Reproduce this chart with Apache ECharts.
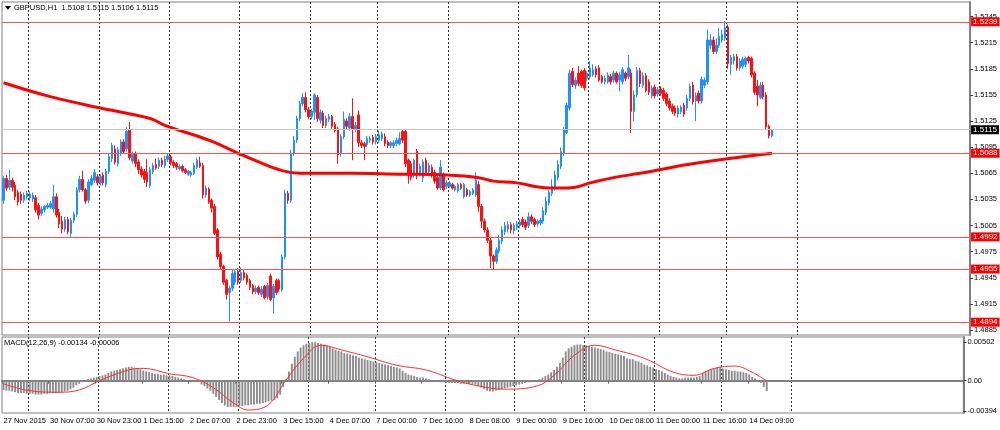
<!DOCTYPE html>
<html><head><meta charset="utf-8">
<script src="https://cdn.jsdelivr.net/npm/echarts@6/dist/echarts.min.js"></script>
<style>html,body{margin:0;padding:0;background:#fff}#c{width:1000px;height:430px}</style>
</head><body><div id="c"></div>
<script>
// ---- data ----
const sessions=[['27 Nov',15,23],['30 Nov',0,23],['1 Dec',0,23],['2 Dec',0,23],['3 Dec',0,23],['4 Dec',0,22],['7 Dec',0,23],['8 Dec',0,23],['9 Dec',0,23],['10 Dec',0,23],['11 Dec',0,22],['14 Dec',0,23],['15 Dec',0,23],['16 Dec',0,23],['17 Dec',0,23]];
const xTickLabels=['27 Nov 2015','30 Nov 07:00','30 Nov 23:00','1 Dec 15:00','2 Dec 07:00','2 Dec 23:00','3 Dec 15:00','4 Dec 07:00','7 Dec 00:00','7 Dec 16:00','8 Dec 08:00','9 Dec 00:00','9 Dec 16:00','10 Dec 08:00','11 Dec 00:00','11 Dec 16:00','14 Dec 09:00'];
const gridDays=['30 Nov','1 Dec','2 Dec','3 Dec','4 Dec','7 Dec','8 Dec','9 Dec','10 Dec','11 Dec','14 Dec','15 Dec'];
const priceTicks=[1.4885,1.4915,1.4945,1.4975,1.5005,1.5035,1.5065,1.5095,1.5125,1.5155,1.5185,1.5215,1.5245];
const macdTicks=[-0.00394,0,0.00502];
const levels=[1.5239,1.5088,1.4992,1.4955,1.4894];
const lastPrice=1.5115;
const opens=[1.5034,1.5059,1.5049,1.5057,1.5051,1.5043,1.5041,1.5034,1.5038,1.5037,
1.5036,1.5037,1.5028,1.5019,1.5023,1.5026,1.5026,1.5024,1.5038,1.5020,
1.5010,1.5001,1.5012,1.4996,1.5011,1.5018,1.5046,1.5058,1.5046,1.5034,
1.5052,1.5057,1.5061,1.5054,1.5063,1.5052,1.5067,1.5082,1.5093,1.5076,
1.5088,1.5101,1.5093,1.5115,1.5079,1.5087,1.5078,1.5070,1.5067,1.5066,
1.5051,1.5067,1.5075,1.5073,1.5080,1.5074,1.5081,1.5084,1.5078,1.5076,
1.5070,1.5073,1.5069,1.5064,1.5063,1.5065,1.5072,1.5077,1.5074,1.5040,
1.5047,1.5034,1.5027,1.5000,1.4972,1.4958,1.4942,1.4928,1.4933,1.4940,
1.4952,1.4942,1.4951,1.4948,1.4942,1.4936,1.4929,1.4934,1.4926,1.4935,
1.4923,1.4947,1.4922,1.4942,1.4942,1.4931,1.4969,1.5042,1.5034,1.5088,
1.5103,1.5128,1.5145,1.5152,1.5138,1.5130,1.5135,1.5152,1.5126,1.5134,
1.5120,1.5127,1.5130,1.5121,1.5116,1.5088,1.5107,1.5125,1.5117,1.5130,
1.5115,1.5132,1.5100,1.5099,1.5098,1.5103,1.5106,1.5101,1.5103,1.5105,
1.5107,1.5101,1.5097,1.5097,1.5099,1.5099,1.5113,1.5113,1.5080,1.5076,
1.5063,1.5090,1.5066,1.5060,1.5080,1.5067,1.5072,1.5066,1.5060,1.5048,
1.5063,1.5050,1.5050,1.5052,1.5046,1.5045,1.5052,1.5038,1.5046,1.5040,
1.5042,1.5040,1.5052,1.5027,1.5010,1.5000,1.4988,1.4970,1.4964,1.4976,
1.4987,1.4998,1.5001,1.5006,1.4999,1.5003,1.5005,1.5012,1.5009,1.5005,
1.5015,1.5012,1.5007,1.5008,1.5010,1.5020,1.5031,1.5042,1.5048,1.5060,
1.5073,1.5088,1.5112,1.5140,1.5182,1.5166,1.5180,1.5182,1.5183,1.5174,
1.5176,1.5178,1.5185,1.5186,1.5176,1.5170,1.5170,1.5176,1.5172,1.5180,
1.5172,1.5170,1.5180,1.5176,1.5180,1.5136,1.5155,1.5183,1.5166,1.5177,
1.5170,1.5154,1.5164,1.5156,1.5162,1.5160,1.5156,1.5148,1.5142,1.5140,
1.5133,1.5136,1.5143,1.5140,1.5151,1.5166,1.5148,1.5157,1.5148,1.5166,
1.5170,1.5212,1.5218,1.5205,1.5212,1.5218,1.5220,1.5233,1.5190,1.5194,
1.5199,1.5186,1.5188,1.5190,1.5198,1.5197,1.5180,1.5165,1.5152,1.5166,
1.5155,1.5119,1.5108];
const closes=[1.5059,1.5048,1.5057,1.5049,1.5038,1.5032,1.5034,1.5040,1.5042,1.5041,
1.5040,1.5023,1.5017,1.5024,1.5027,1.5028,1.5030,1.5038,1.5017,1.5007,
1.5001,1.5012,1.4998,1.5011,1.5018,1.5046,1.5058,1.5046,1.5033,1.5055,
1.5059,1.5066,1.5054,1.5061,1.5054,1.5067,1.5084,1.5097,1.5078,1.5092,
1.5101,1.5090,1.5113,1.5083,1.5087,1.5076,1.5069,1.5063,1.5058,1.5055,
1.5069,1.5074,1.5071,1.5080,1.5075,1.5081,1.5085,1.5077,1.5074,1.5072,
1.5073,1.5068,1.5066,1.5067,1.5066,1.5074,1.5080,1.5073,1.5040,1.5048,
1.5032,1.5025,1.4996,1.4969,1.4958,1.4940,1.4926,1.4933,1.4950,1.4952,
1.4940,1.4951,1.4945,1.4940,1.4934,1.4929,1.4933,1.4928,1.4932,1.4922,
1.4936,1.4920,1.4935,1.4928,1.4932,1.4969,1.5042,1.5034,1.5088,1.5103,
1.5128,1.5145,1.5152,1.5138,1.5130,1.5136,1.5155,1.5128,1.5135,1.5120,
1.5128,1.5130,1.5119,1.5114,1.5086,1.5107,1.5127,1.5119,1.5130,1.5116,
1.5120,1.5100,1.5097,1.5096,1.5105,1.5105,1.5101,1.5107,1.5109,1.5110,
1.5099,1.5097,1.5100,1.5100,1.5103,1.5105,1.5103,1.5076,1.5063,1.5060,
1.5080,1.5065,1.5073,1.5078,1.5066,1.5074,1.5063,1.5056,1.5048,1.5072,
1.5046,1.5054,1.5054,1.5048,1.5050,1.5052,1.5048,1.5052,1.5040,1.5044,
1.5046,1.5057,1.5027,1.5010,1.5000,1.4988,1.4970,1.4964,1.4977,1.4988,
1.5000,1.5005,1.5006,1.5000,1.5005,1.5007,1.5009,1.5006,1.5003,1.5015,
1.5010,1.5006,1.5010,1.5011,1.5022,1.5033,1.5043,1.5050,1.5063,1.5075,
1.5090,1.5115,1.5143,1.5180,1.5167,1.5172,1.5168,1.5166,1.5163,1.5180,
1.5186,1.5184,1.5178,1.5172,1.5170,1.5174,1.5178,1.5170,1.5180,1.5170,
1.5178,1.5184,1.5174,1.5186,1.5136,1.5155,1.5183,1.5168,1.5177,1.5160,
1.5158,1.5163,1.5154,1.5161,1.5157,1.5151,1.5145,1.5140,1.5136,1.5134,
1.5140,1.5141,1.5133,1.5151,1.5165,1.5147,1.5154,1.5148,1.5173,1.5172,
1.5218,1.5218,1.5205,1.5212,1.5222,1.5224,1.5232,1.5191,1.5198,1.5199,
1.5186,1.5194,1.5196,1.5197,1.5194,1.5178,1.5158,1.5155,1.5166,1.5153,
1.5118,1.5108,1.5115];
const highs=[1.5062,1.5063,1.5069,1.5060,1.5055,1.5046,1.5044,1.5043,1.5045,1.5044,
1.5043,1.5040,1.5031,1.5027,1.5029,1.5031,1.5033,1.5052,1.5042,1.5024,
1.5016,1.5015,1.5015,1.5014,1.5021,1.5049,1.5062,1.5068,1.5048,1.5058,
1.5063,1.5070,1.5064,1.5064,1.5066,1.5070,1.5088,1.5100,1.5097,1.5095,
1.5104,1.5104,1.5118,1.5124,1.5090,1.5090,1.5081,1.5073,1.5070,1.5081,
1.5072,1.5077,1.5082,1.5083,1.5083,1.5085,1.5088,1.5086,1.5080,1.5078,
1.5075,1.5075,1.5071,1.5069,1.5068,1.5077,1.5083,1.5084,1.5077,1.5051,
1.5049,1.5036,1.5030,1.5002,1.4975,1.4960,1.4944,1.4936,1.4954,1.4955,
1.4956,1.4957,1.4954,1.4950,1.4944,1.4938,1.4936,1.4936,1.4935,1.4937,
1.4939,1.4950,1.4938,1.4944,1.4944,1.4972,1.5046,1.5045,1.5092,1.5108,
1.5131,1.5148,1.5157,1.5158,1.5141,1.5139,1.5157,1.5155,1.5138,1.5137,
1.5131,1.5133,1.5132,1.5124,1.5118,1.5110,1.5136,1.5128,1.5134,1.5151,
1.5124,1.5137,1.5103,1.5101,1.5108,1.5108,1.5109,1.5110,1.5114,1.5113,
1.5111,1.5103,1.5102,1.5103,1.5106,1.5112,1.5115,1.5116,1.5082,1.5079,
1.5082,1.5093,1.5076,1.5081,1.5083,1.5077,1.5075,1.5069,1.5063,1.5080,
1.5066,1.5057,1.5056,1.5054,1.5052,1.5054,1.5054,1.5054,1.5048,1.5046,
1.5048,1.5066,1.5056,1.5030,1.5013,1.5003,1.4992,1.4972,1.4980,1.4994,
1.5004,1.5009,1.5010,1.5009,1.5008,1.5010,1.5012,1.5015,1.5012,1.5020,
1.5018,1.5014,1.5012,1.5014,1.5026,1.5038,1.5046,1.5058,1.5068,1.5080,
1.5095,1.5118,1.5146,1.5184,1.5186,1.5175,1.5188,1.5184,1.5186,1.5182,
1.5194,1.5190,1.5188,1.5189,1.5178,1.5177,1.5181,1.5179,1.5183,1.5182,
1.5181,1.5187,1.5182,1.5201,1.5185,1.5160,1.5187,1.5186,1.5181,1.5180,
1.5173,1.5166,1.5167,1.5164,1.5165,1.5163,1.5158,1.5151,1.5145,1.5143,
1.5143,1.5143,1.5146,1.5155,1.5168,1.5170,1.5158,1.5160,1.5176,1.5175,
1.5230,1.5225,1.5222,1.5220,1.5232,1.5230,1.5240,1.5236,1.5201,1.5202,
1.5202,1.5197,1.5199,1.5199,1.5200,1.5199,1.5182,1.5172,1.5170,1.5170,
1.5158,1.5121,1.5115];
const lows=[1.5030,1.5045,1.5046,1.5044,1.5034,1.5028,1.5030,1.5031,1.5035,1.5033,
1.5032,1.5020,1.5012,1.5016,1.5020,1.5024,1.5024,1.5020,1.5014,1.5002,
1.4996,1.4998,1.4995,1.4992,1.5008,1.5015,1.5043,1.5044,1.5030,1.5031,
1.5050,1.5054,1.5051,1.5051,1.5051,1.5049,1.5064,1.5078,1.5075,1.5073,
1.5085,1.5087,1.5090,1.5080,1.5076,1.5072,1.5064,1.5060,1.5054,1.5049,
1.5048,1.5064,1.5069,1.5070,1.5072,1.5071,1.5078,1.5074,1.5071,1.5069,
1.5068,1.5066,1.5064,1.5062,1.5061,1.5063,1.5070,1.5071,1.5036,1.5037,
1.5030,1.5020,1.4994,1.4966,1.4954,1.4937,1.4920,1.4895,1.4930,1.4937,
1.4937,1.4939,1.4942,1.4937,1.4931,1.4926,1.4926,1.4925,1.4923,1.4920,
1.4920,1.4918,1.4904,1.4925,1.4929,1.4929,1.4966,1.5030,1.5031,1.5085,
1.5100,1.5125,1.5142,1.5135,1.5127,1.5127,1.5126,1.5124,1.5122,1.5117,
1.5117,1.5124,1.5116,1.5112,1.5076,1.5084,1.5104,1.5116,1.5114,1.5080,
1.5112,1.5095,1.5094,1.5080,1.5095,1.5100,1.5098,1.5098,1.5100,1.5102,
1.5096,1.5094,1.5094,1.5094,1.5096,1.5097,1.5100,1.5072,1.5053,1.5057,
1.5060,1.5058,1.5063,1.5055,1.5063,1.5063,1.5060,1.5053,1.5046,1.5046,
1.5044,1.5047,1.5048,1.5046,1.5044,1.5043,1.5046,1.5036,1.5038,1.5038,
1.5040,1.5038,1.5021,1.5002,1.4997,1.4985,1.4956,1.4955,1.4961,1.4973,
1.4984,1.4994,1.4997,1.4996,1.4995,1.5000,1.5002,1.5003,1.5000,1.5002,
1.5007,1.5003,1.5004,1.5005,1.5007,1.5017,1.5028,1.5039,1.5045,1.5057,
1.5070,1.5085,1.5110,1.5137,1.5164,1.5162,1.5165,1.5163,1.5160,1.5171,
1.5173,1.5176,1.5175,1.5170,1.5168,1.5167,1.5168,1.5167,1.5169,1.5168,
1.5159,1.5167,1.5171,1.5173,1.5111,1.5125,1.5152,1.5164,1.5163,1.5158,
1.5155,1.5151,1.5151,1.5153,1.5154,1.5148,1.5142,1.5137,1.5133,1.5131,
1.5129,1.5133,1.5130,1.5137,1.5148,1.5144,1.5125,1.5145,1.5145,1.5163,
1.5167,1.5208,1.5202,1.5202,1.5209,1.5215,1.5217,1.5185,1.5178,1.5190,
1.5183,1.5183,1.5185,1.5187,1.5191,1.5175,1.5155,1.5142,1.5150,1.5150,
1.5115,1.5105,1.5106];
// 200-period moving average, read at selected bars (bar index, value)
const maIdx=[0,16,33,50,55,70,80,87,95,101,118,135,151,162,167,175,183,190,195,200,208,217,237,262];
const maVal=[1.5169,1.5153,1.5140,1.5128,1.5120,1.5103,1.5088,1.5078,1.5068,1.5065,1.5065,1.5064,1.5063,1.5060,1.5056,1.5054,1.5049,1.5048,1.5049,1.5054,1.5060,1.5065,1.5077,1.5088];
const macdHist=[-0.0012,-0.0013,-0.0013,-0.0014,-0.0015,-0.0016,-0.0016,-0.0016,-0.0017,-0.0017,
-0.0017,-0.0018,-0.0018,-0.0018,-0.0017,-0.0017,-0.0016,-0.0016,-0.0016,-0.0016,
-0.0015,-0.0014,-0.0013,-0.0011,-0.0009,-0.0006,-0.0004,-0.0002,0.0000,0.0002,
0.0003,0.0004,0.0005,0.0006,0.0007,0.0008,0.0010,0.0012,0.0013,0.0014,
0.0015,0.0016,0.0017,0.0018,0.0018,0.0017,0.0016,0.0015,0.0013,0.0012,
0.0011,0.0010,0.0009,0.0009,0.0008,0.0008,0.0007,0.0007,0.0006,0.0005,
0.0004,0.0003,0.0002,0.0001,0.0000,-0.0001,-0.0001,-0.0002,-0.0005,-0.0007,
-0.0010,-0.0013,-0.0017,-0.0021,-0.0025,-0.0029,-0.0032,-0.0034,-0.0034,-0.0034,
-0.0034,-0.0033,-0.0033,-0.0032,-0.0032,-0.0031,-0.0031,-0.0030,-0.0030,-0.0029,
-0.0028,-0.0027,-0.0026,-0.0025,-0.0023,-0.0018,-0.0008,0.0002,0.0012,0.0022,
0.0031,0.0038,0.0043,0.0046,0.0048,0.0049,0.0050,0.0050,0.0049,0.0048,
0.0047,0.0046,0.0044,0.0042,0.0040,0.0039,0.0038,0.0036,0.0035,0.0034,
0.0033,0.0032,0.0030,0.0029,0.0028,0.0027,0.0026,0.0025,0.0024,0.0023,
0.0022,0.0021,0.0020,0.0019,0.0018,0.0017,0.0016,0.0013,0.0010,0.0008,
0.0007,0.0006,0.0005,0.0004,0.0004,0.0003,0.0002,0.0001,0.0000,-0.0001,
-0.0002,-0.0002,-0.0003,-0.0003,-0.0003,-0.0003,-0.0003,-0.0004,-0.0004,-0.0004,
-0.0004,-0.0004,-0.0005,-0.0007,-0.0009,-0.0011,-0.0013,-0.0014,-0.0014,-0.0013,
-0.0012,-0.0011,-0.0010,-0.0009,-0.0008,-0.0007,-0.0006,-0.0005,-0.0004,-0.0003,
-0.0002,-0.0002,-0.0001,0.0000,0.0002,0.0004,0.0006,0.0008,0.0011,0.0014,
0.0018,0.0023,0.0030,0.0038,0.0042,0.0044,0.0046,0.0047,0.0047,0.0046,
0.0046,0.0045,0.0044,0.0043,0.0042,0.0041,0.0040,0.0038,0.0037,0.0036,
0.0035,0.0034,0.0033,0.0032,0.0029,0.0028,0.0028,0.0026,0.0025,0.0023,
0.0021,0.0020,0.0018,0.0017,0.0015,0.0014,0.0012,0.0010,0.0008,0.0006,
0.0005,0.0004,0.0003,0.0003,0.0004,0.0004,0.0004,0.0004,0.0005,0.0006,
0.0010,0.0013,0.0014,0.0015,0.0016,0.0017,0.0018,0.0016,0.0015,0.0014,
0.0013,0.0013,0.0012,0.0012,0.0011,0.0010,0.0008,0.0005,0.0003,0.0001,
-0.0003,-0.0008,-0.00134];
const sigIdx=[0,9,19,26,33,43,48,57,65,72,79,84,91,97,103,109,116,125,135,145,155,162,172,183,189,196,203,210,220,230,237,244,251,257,262];
const sigVal=[-0.0004,-0.0013,-0.0015,-0.0012,0.0000,0.0014,0.0016,0.0009,0.0004,-0.0009,-0.0029,-0.0038,-0.0031,0.0001,0.0029,0.0046,0.0040,0.0031,0.0020,0.0014,0.0001,-0.0006,-0.0011,-0.0007,0.0007,0.0033,0.0046,0.0040,0.0029,0.0011,0.0007,0.0016,0.0019,0.0011,-0.00006];

// ---- build ----
const NCAT=330;
const cats=[],dayStart=new Set();
sessions.forEach((s,si)=>{for(let h=s[1];h<=s[2];h++){if(h===0&&gridDays.includes(s[0]))dayStart.add(cats.length);cats.push(s[0]+' '+String(h).padStart(2,'0')+':00');}});
cats.length=NCAT;
const candles=opens.map((o,i)=>[o,closes[i],lows[i],highs[i]]);
const maData=new Array(opens.length).fill(null);maIdx.forEach((k,j)=>maData[k]=maVal[j]);
const sigData=new Array(opens.length).fill(null);sigIdx.forEach((k,j)=>sigData[k]=sigVal[j]);
const FONT='Liberation Sans';
const isTick=(i)=>i%16===0&&i/16<xTickLabels.length;
const split={show:true,interval:(i)=>dayStart.has(i),lineStyle:{color:'#303030',type:[2,2],width:1}};
const boxLabel=(bg)=>({show:true,position:'end',distance:1,formatter:(p)=>Number(p.value).toFixed(4),color:'#fff',backgroundColor:bg,padding:[1,2,0,2],fontSize:8,fontFamily:FONT});

const chart=echarts.init(document.getElementById('c'));
chart.setOption({
  animation:false,
  backgroundColor:'#ffffff',
  grid:[
    {left:2,right:29,top:2,height:333,show:true,borderColor:'#808080',borderWidth:1,backgroundColor:'transparent'},
    {left:2,right:29,top:337,height:76,show:true,borderColor:'#808080',borderWidth:1,backgroundColor:'transparent'}
  ],
  xAxis:[
    {type:'category',gridIndex:0,data:cats,boundaryGap:true,axisLine:{show:false},axisTick:{show:false},axisLabel:{show:false},splitLine:split},
    {type:'category',gridIndex:1,data:cats,boundaryGap:true,axisLine:{show:true,lineStyle:{color:'#808080',width:2}},
     axisTick:{show:true,interval:(i)=>isTick(i),length:3,lineStyle:{color:'#606060'}},
     axisLabel:{show:true,interval:(i)=>isTick(i),formatter:(v,i)=>xTickLabels[i/16],align:'left',margin:4,fontSize:7.5,color:'#000',fontFamily:FONT},
     splitLine:split}
  ],
  yAxis:[
    {type:'value',gridIndex:0,position:'right',min:1.48793,max:1.52617,splitLine:{show:false},
     axisLine:{show:true,lineStyle:{color:'#808080',width:2}},
     axisTick:{show:true,customValues:priceTicks,length:3,lineStyle:{color:'#404040'}},
     axisLabel:{show:true,customValues:priceTicks,formatter:(v)=>v.toFixed(4),margin:4,fontSize:7.5,color:'#000',fontFamily:FONT}},
    {type:'value',gridIndex:1,position:'right',min:-0.004195,max:0.005675,splitLine:{show:false},
     axisLine:{show:true,lineStyle:{color:'#808080',width:2}},
     axisTick:{show:true,customValues:macdTicks,length:3,lineStyle:{color:'#404040'}},
     axisLabel:{show:true,customValues:macdTicks,formatter:(v)=>v===0?'0.00':v.toFixed(5),margin:4,fontSize:7.5,color:'#000',fontFamily:FONT}}
  ],
  series:[
    {type:'line',xAxisIndex:0,yAxisIndex:0,data:[],showSymbol:false,color:'#c8c8c8',
     markLine:{silent:true,precision:5,symbol:['none','none'],animation:false,
       lineStyle:{color:'#c8c8c8',width:1,type:'solid'},label:boxLabel('#000'),
       data:[{yAxis:lastPrice}]}},
    {type:'candlestick',xAxisIndex:0,yAxisIndex:0,data:candles,barWidth:2,
     itemStyle:{color:'#2090ff',color0:'#ff1010',borderColor:'#2090ff',borderColor0:'#ff1010',borderWidth:1}},
    {type:'line',xAxisIndex:0,yAxisIndex:0,data:[],showSymbol:false,color:'#ff5050',
     markLine:{silent:true,precision:5,symbol:['none','none'],animation:false,
       lineStyle:{color:'#ff5050',width:1,type:'solid'},label:boxLabel('#ff0000'),
       data:levels.map(v=>({yAxis:v}))}},
    {type:'line',xAxisIndex:0,yAxisIndex:0,data:maData,connectNulls:true,smooth:0.4,showSymbol:false,lineStyle:{color:'#ff0000',width:3}},
    {type:'bar',xAxisIndex:1,yAxisIndex:1,data:macdHist,barWidth:'65%',itemStyle:{color:'#8c8c8c'}},
    {type:'line',xAxisIndex:1,yAxisIndex:1,data:sigData,connectNulls:true,smooth:0.4,showSymbol:false,lineStyle:{color:'#ff3030',width:1}}
  ],
  graphic:[
    {type:'polygon',shape:{points:[[5,6],[11,6],[8,10]]},style:{fill:'#000'}},
    {type:'text',left:14,top:4,style:{text:'GBPUSD,H1  1.5108 1.5115 1.5106 1.5115',font:'7.5px "Liberation Sans"',fill:'#000'}},
    {type:'text',left:4,top:339,style:{text:'MACD(12,26,9) -0.00134 -0.00006',font:'7.5px "Liberation Sans"',fill:'#000'}}
  ]
});
</script>
</body></html>
